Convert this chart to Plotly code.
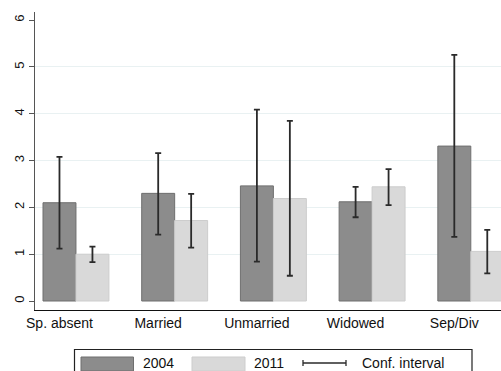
import plotly.graph_objects as go

categories = ["Sp. absent", "Married", "Unmarried", "Widowed", "Sep/Div"]
val_2004 = [2.10, 2.30, 2.46, 2.12, 3.31]
low_2004 = [1.12, 1.42, 0.84, 1.79, 1.37]
high_2004 = [3.08, 3.16, 4.09, 2.44, 5.26]
val_2011 = [1.00, 1.72, 2.19, 2.44, 1.06]
low_2011 = [0.83, 1.14, 0.54, 2.05, 0.59]
high_2011 = [1.16, 2.29, 3.85, 2.82, 1.52]
series_names = ["2004", "2011"]
ci_name = "Conf. interval"
y_ticks = [0, 1, 2, 3, 4, 5, 6]
grid_ticks = [1, 2, 3, 4, 5]

W, H = 501, 371
ML, MR, MT, MB = 35, 0, 12, 61
PW = W - ML - MR
PH = H - MT - MB

FONT = "Liberation Sans, Arial, sans-serif"
BW = 0.334


def px(x):
    return (x - ML) / PW


def py(y):
    return (H - MB - y) / PH


def err(vals, lo, hi):
    return dict(type="data", symmetric=False,
                array=[h - v for v, h in zip(vals, hi)],
                arrayminus=[v - l for v, l in zip(vals, lo)],
                color="#2a2a2a", thickness=1.8, width=3)


fig = go.Figure()
fig.add_trace(go.Bar(x=categories, y=val_2004, name=series_names[0],
                     width=BW, offset=-BW / 2,
                     marker=dict(color="#8c8c8c", line=dict(color="#6f6f6f", width=1)),
                     error_y=err(val_2004, low_2004, high_2004)))
fig.add_trace(go.Bar(x=categories, y=val_2011, name=series_names[1],
                     width=BW, offset=BW / 2,
                     marker=dict(color="#d9d9d9", line=dict(color="#cdcdcd", width=1)),
                     error_y=err(val_2011, low_2011, high_2011)))
# invisible trace to instantiate the grid axis
fig.add_trace(go.Scatter(x=[categories[0]], y=[0], yaxis="y2", mode="markers",
                         marker=dict(opacity=0), hoverinfo="skip", showlegend=False))

yr = [-0.192, 6.175]
fig.update_layout(
    width=W, height=H,
    margin=dict(l=ML, r=MR, t=MT, b=MB, pad=0),
    paper_bgcolor="white", plot_bgcolor="white",
    barmode="overlay",
    showlegend=False,
    font=dict(family=FONT, size=13, color="#111"),
    xaxis=dict(range=[-0.248, 4.473], showline=True, linecolor="#111", linewidth=1.3,
               ticks="", showgrid=False, zeroline=False,
               tickfont=dict(family=FONT, size=14, color="#111")),
    yaxis=dict(range=yr, tickvals=y_ticks, showline=True, linecolor="#555", linewidth=1.3,
               ticks="outside", ticklen=5, tickcolor="#555", tickwidth=1.2,
               tickangle=-90, showgrid=False, zeroline=False,
               tickfont=dict(family=FONT, size=13, color="#111")),
    yaxis2=dict(range=yr, overlaying="y", anchor="x", tickvals=grid_ticks,
                showticklabels=False, ticks="", showline=False, zeroline=False,
                showgrid=True, gridcolor="#e9f1f2", gridwidth=1),
)

# legend (drawn as decoration in paper coordinates)
shapes = []
shapes.append(dict(type="rect", xref="paper", yref="paper",
                   x0=px(74.5), x1=px(472), y0=py(380), y1=py(349.5),
                   line=dict(color="#222", width=1.2), fillcolor="white"))
shapes.append(dict(type="rect", xref="paper", yref="paper",
                   x0=px(81), x1=px(133.5), y0=py(371), y1=py(357),
                   line=dict(color="#6f6f6f", width=1), fillcolor="#8c8c8c"))
shapes.append(dict(type="rect", xref="paper", yref="paper",
                   x0=px(192), x1=px(245), y0=py(371), y1=py(357),
                   line=dict(color="#cdcdcd", width=1), fillcolor="#d9d9d9"))
ly = 363
shapes.append(dict(type="line", xref="paper", yref="paper",
                   x0=px(303), x1=px(346), y0=py(ly), y1=py(ly),
                   line=dict(color="#2a2a2a", width=1.3)))
for cx in (303, 346):
    shapes.append(dict(type="line", xref="paper", yref="paper",
                       x0=px(cx), x1=px(cx), y0=py(ly - 3), y1=py(ly + 3),
                       line=dict(color="#2a2a2a", width=1.3)))
fig.update_layout(shapes=shapes)

for text, x0 in ((series_names[0], 141), (series_names[1], 251.5), (ci_name, 359.5)):
    fig.add_annotation(xref="paper", yref="paper", x=px(x0), y=py(ly),
                       text=text, showarrow=False, xanchor="left", yanchor="middle",
                       font=dict(family=FONT, size=14, color="#111"))

fig.write_html("out.html", config={"displayModeBar": False},
               post_script="document.body.style.margin='0';document.body.style.overflow='hidden';")
